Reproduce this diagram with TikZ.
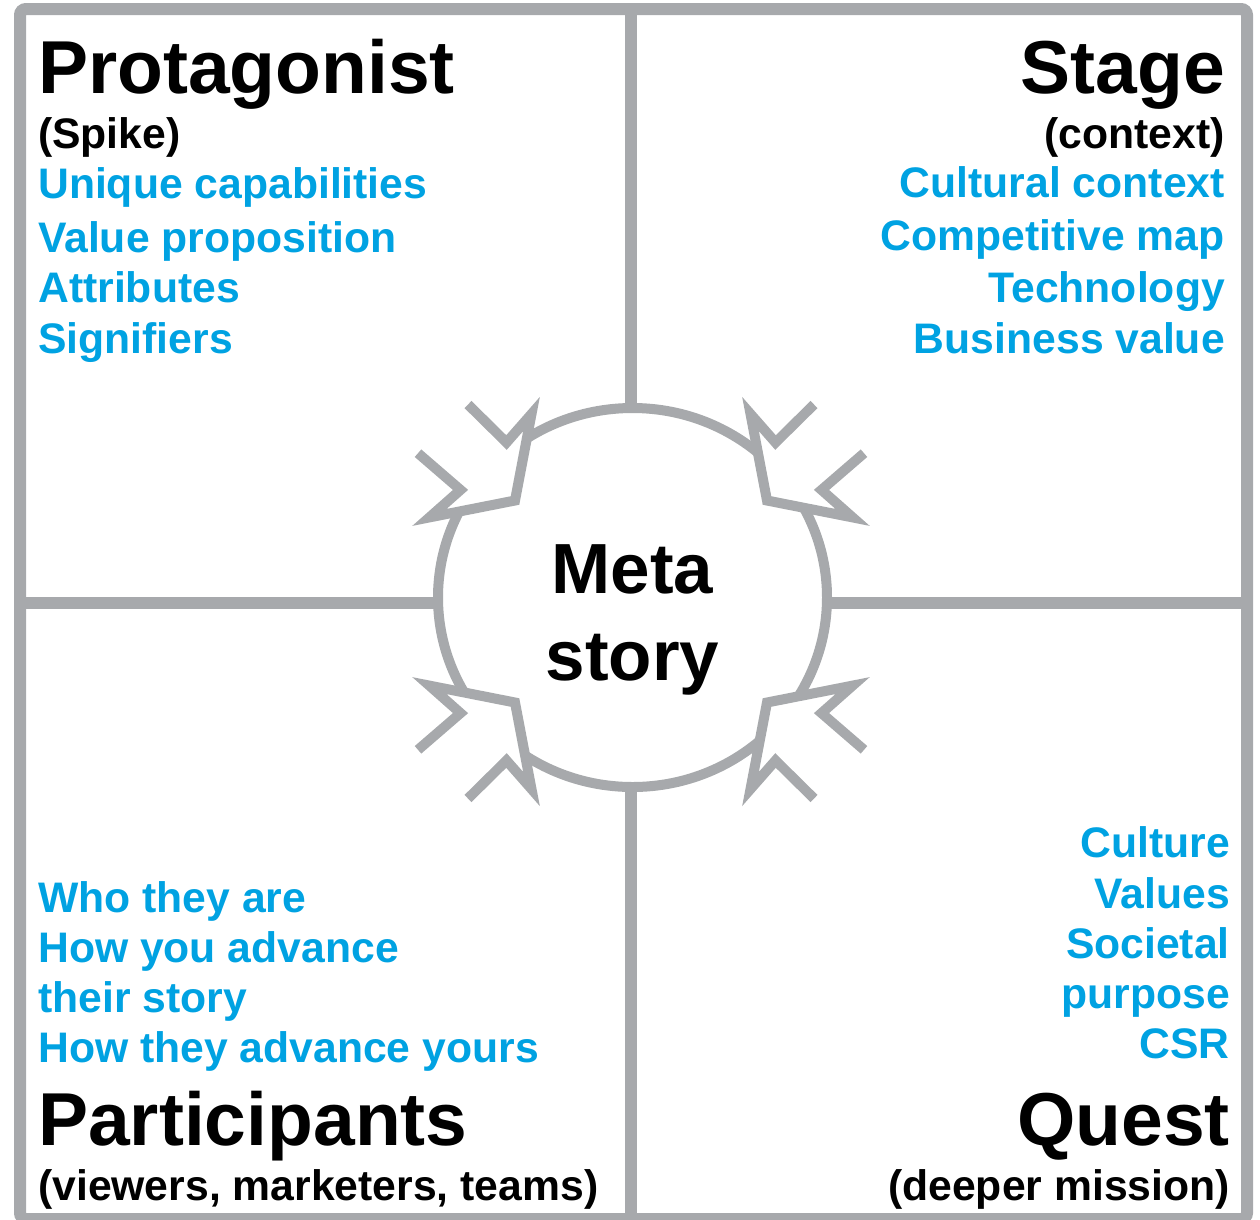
\documentclass[tikz,border=0pt]{standalone}
\usepackage{fontspec}
\setmainfont{Liberation Sans}
\usepackage{xcolor}
\definecolor{cgray}{RGB}{167,169,172}
\definecolor{cblue}{RGB}{0,162,226}
\usepackage{tikz}
\tikzset{
Frame/.style={
	draw=cgray,
	line width=12pt,
	rounded corners=6pt
},
Divider/.style={
	draw=cgray,
	line width=12pt
},
Hub/.style={
	draw=cgray,
	line width=10pt,
	fill=white
},
Spike/.style={
	draw=cgray,
	line width=10pt,
	miter limit=12
},
Title/.style={
	inner sep=0pt,
	font=\fontsize{75}{75}\selectfont\bfseries
},
Note/.style={
	inner sep=0pt,
	font=\fontsize{42.7}{42.7}\selectfont\bfseries
},
Item/.style={
	Note,
	text=cblue
},
Centre/.style={
	inner sep=0pt,
	font=\fontsize{71}{71}\selectfont\bfseries
}
}

\begin{document}
\begin{tikzpicture}[x=1pt, y=-1pt]
	\useasboundingbox (0,0) rectangle (1260,1219);

	% frame and the two dividers
	\draw[Frame] (20,9) rectangle (1247,1219);
	\draw[Divider] (631,9) -- (631,1219);
	\draw[Divider] (20,603) -- (1247,603);

	% the hub, then the eight spikes pushing into it
	\draw[Hub] (632.5,597.5) ellipse [x radius=194.5, y radius=189.5];
	\foreach \sx/\sy in {1/1, -1/1, 1/-1, -1/-1}{
		\begin{scope}[shift={(641,601.5)}, xscale=\sx, yscale=\sy]
			\fill[white] (-109.5,-187.5) -- (-126,-101) -- (-211.6,-84.1) -- cycle;
			\draw[Spike] (-173,-197) -- (-134.5,-159) -- (-109.5,-187.5) -- (-126,-101)
				-- (-211.6,-84.1) -- (-180.5,-111.6) -- (-223,-148.3);
		\end{scope}
	}

	\node[Centre, anchor=base] (meta) at (632.5,593) {Meta};
	\node[Centre, anchor=base] (story) at (632.5,680) {story};

	% protagonist
	\node[Title, anchor=base west] (prot) at (38,93) {Protagonist};
	\node[Note, anchor=base west] (spike) at (38,148) {(Spike)};
	\node[Item, anchor=base west] (p1) at (38,198) {Unique capabilities};
	\node[Item, anchor=base west] (p2) at (38,252) {Value proposition};
	\node[Item, anchor=base west] (p3) at (38,302) {Attributes};
	\node[Item, anchor=base west] (p4) at (38,353) {Signifiers};

	% stage
	\node[Title, anchor=base east] (stage) at (1225,93) {Stage};
	\node[Note, anchor=base east] (context) at (1225,148) {(context)};
	\node[Item, anchor=base east] (s1) at (1225,197) {Cultural context};
	\node[Item, anchor=base east] (s2) at (1225,250) {Competitive map};
	\node[Item, anchor=base east] (s3) at (1225,302) {Technology};
	\node[Item, anchor=base east] (s4) at (1225,353) {Business value};

	% participants
	\node[Item, anchor=base west] (a1) at (38,912) {Who they are};
	\node[Item, anchor=base west] (a2) at (38,962) {How you advance};
	\node[Item, anchor=base west] (a3) at (38,1012) {their story};
	\node[Item, anchor=base west] (a4) at (38,1062) {How they advance yours};
	\node[Title, anchor=base west] (part) at (38,1145) {Participants};
	\node[Note, anchor=base west] (viewers) at (38,1200) {(viewers, marketers, teams)};

	% quest
	\node[Item, anchor=base east] (q1) at (1230,857) {Culture};
	\node[Item, anchor=base east] (q2) at (1230,908) {Values};
	\node[Item, anchor=base east] (q3) at (1230,958) {Societal};
	\node[Item, anchor=base east] (q4) at (1230,1008) {purpose};
	\node[Item, anchor=base east] (q5) at (1230,1058) {CSR};
	\node[Title, anchor=base east] (quest) at (1230,1145) {Quest};
	\node[Note, anchor=base east] (mission) at (1230,1200) {(deeper mission)};
\end{tikzpicture}
\end{document}
